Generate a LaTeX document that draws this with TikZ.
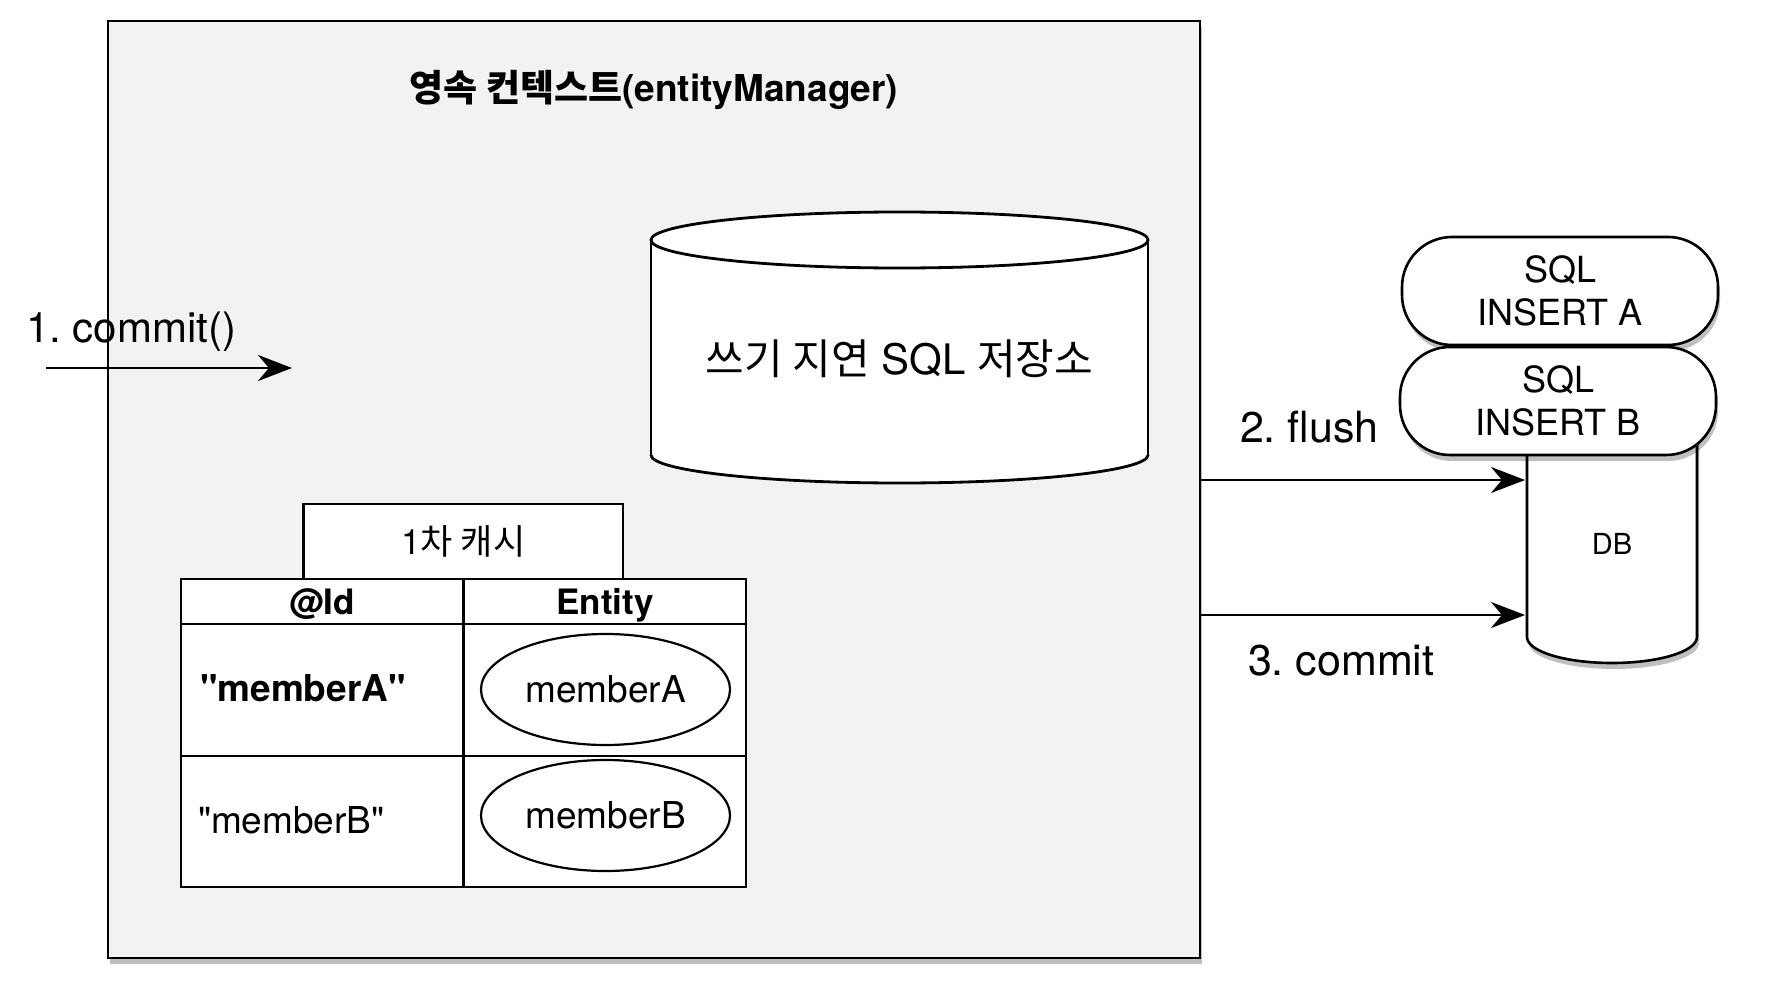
\documentclass[tikz,border=0pt]{standalone}
\usepackage{fontspec}
\setmainfont{TeX Gyre Heros}[Ligatures=TeXOff]
\newfontfamily\kr{Noto Sans CJK KR}
\usetikzlibrary{arrows.meta,shadows,shapes.geometric}
\definecolor{boxgray}{HTML}{F2F2F2}
\newcommand{\fsz}[1]{\fontsize{#1}{#1}\selectfont}
\frenchspacing
\begin{document}
\begin{tikzpicture}[x=1pt,y=-1pt,
  ln/.style={line width=2.8pt},
  arr/.style={line width=2.8pt, -{Stealth[length=34pt,width=26pt,inset=11pt]}},
  shd/.style={drop shadow={shadow xshift=2pt, shadow yshift=-6pt, opacity=0.25, fill=black}},
  lbl/.style={inner sep=0pt, outer sep=0pt},
  ent/.style={ellipse, draw, line width=2.2pt, fill=white, minimum width=249pt, minimum height=111pt, inner sep=0pt, font=\fsz{37}},
  pill/.style={rectangle, draw, line width=2.6pt, fill=white, rounded corners=50pt, minimum width=316pt, minimum height=108pt, inner sep=0pt, align=center, font=\fontsize{36}{43}\selectfont, shd},
]
\useasboundingbox (0,0) rectangle (1788,1000);
\fill[white] (0,0) rectangle (1788,1000);

% persistence context box
\draw[ln, fill=boxgray, shd] (108,21) rectangle (1200,958);
\node[lbl, font=\bfseries\fsz{37}] (title) at (654,90) {{\kr 영속 컨텍스트}(entityManager)};

% write-behind SQL store (cylinder)
\fill[white] (899.5,455) ellipse [x radius=248.5, y radius=28];
\fill[white] (651,240) rectangle (1148,455);
\begin{scope}
  \clip (640,455) rectangle (1160,495);
  \draw[ln] (899.5,455) ellipse [x radius=248.5, y radius=28];
\end{scope}
\draw[ln] (651,240) -- (651,455) (1148,240) -- (1148,455);
\draw[ln, fill=white] (899.5,240) ellipse [x radius=248.5, y radius=28];
\node[lbl, font=\fsz{42}, anchor=base] (store) at (899.5,374) {{\kr 쓰기 지연} SQL {\kr 저장소}};

% first-level cache
\node[draw, ln, fill=white, minimum width=319.5pt, minimum height=75pt, inner sep=0pt, font=\fsz{35}] (cache) at (463.25,541.5) {1{\kr 차 캐시}};
\draw[ln, fill=white] (181,579) rectangle (746,887);
\draw[ln] (181,624) -- (746,624) (181,756) -- (746,756) (463.5,579) -- (463.5,887);
\node[lbl, font=\bfseries\fsz{35}, anchor=base] (hid) at (322,614) {@Id};
\node[lbl, font=\bfseries\fsz{35}, anchor=base] (hent) at (605,614) {Entity};
\node[lbl, font=\bfseries\fsz{37}, anchor=base west] (ida) at (200,701) {"memberA"};
\node[lbl, font=\fsz{37}, anchor=base west] (idb) at (198,833) {"memberB"};
\node[ent] (ea) at (605.5,689.5) {memberA};
\node[ent] (eb) at (605.5,815.5) {memberB};

% DB cylinder
\draw[line width=2.6pt, fill=white, shd] (1527,400) -- (1527,637)
  .. controls (1527,651.4) and (1565.1,663) .. (1612,663)
  .. controls (1658.9,663) and (1697,651.4) .. (1697,637) -- (1697,400) -- cycle;
\node[lbl, font=\fsz{29}] (db) at (1612,544) {DB};

% queued SQL statements
\node[pill] (sqla) at (1560,291) {SQL\\INSERT A};
\node[pill] (sqlb) at (1558,401) {SQL\\INSERT B};

% arrows
\coordinate (c1s) at (46,368);
\coordinate (c1e) at (292,368);
\draw[arr] (c1s) -- (c1e);
\node[lbl, font=\fsz{42}, anchor=base west] (l1) at (26,342) {1. commit()};

\coordinate (f1) at (1200,480);
\coordinate (f2) at (1525,480);
\draw[arr] (f1) -- (f2);
\node[lbl, font=\fsz{43}, anchor=base west] (l2) at (1240,442) {2. flush};

\coordinate (m1) at (1200,615);
\coordinate (m2) at (1525,615);
\draw[arr] (m1) -- (m2);
\node[lbl, font=\fsz{43}, anchor=base west] (l3) at (1248,675) {3. commit};
\end{tikzpicture}
\end{document}
